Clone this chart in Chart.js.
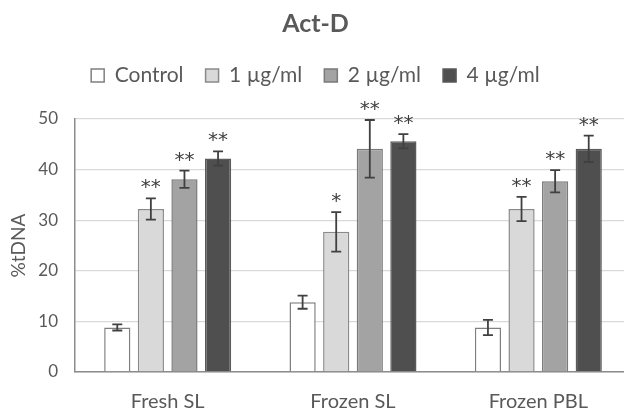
<!DOCTYPE html>
<html>
<head>
<meta charset="utf-8">
<script src="https://cdn.jsdelivr.net/npm/chart.js@4"></script>
<style>
  html, body { margin: 0; padding: 0; background: #fff; }
  #wrap { width: 624px; height: 413px; overflow: hidden; }
  #box { width: 632px; height: 413px; }
</style>
</head>
<body>
<div id="wrap"><div id="box"><canvas id="chart"></canvas></div></div>
<script>
// groups on the x axis
const groups = ['Fresh SL', 'Frozen SL', 'Frozen PBL'];
const doses = ['Control', '1 µg/ml', '2 µg/ml', '4 µg/ml'];

// %tDNA means
const controlVals = [8.8, 13.8, 8.8];
const dose1Vals = [32.2, 27.7, 32.2];
const dose2Vals = [38.1, 44.1, 37.7];
const dose4Vals = [42.2, 45.6, 44.1];

// error bars (+/-)
const controlErr = [0.6, 1.3, 1.5];
const dose1Err = [2.1, 3.9, 2.4];
const dose2Err = [1.7, 5.7, 2.2];
const dose4Err = [1.4, 1.4, 2.6];

// significance marks
const controlSig = ['', '', ''];
const dose1Sig = ['**', '*', '**'];
const dose2Sig = ['**', '**', '**'];
const dose4Sig = ['**', '**', '**'];

const yTicks = [0, 10, 20, 30, 40, 50];

const fills = ['#ffffff', '#d9d9d9', '#a3a3a3', '#4f4f4f'];
const borders = ['#7f7f7f', '#8a8a8a', '#7a7a7a', '#5a5a5a'];
const textGray = '#595959';
const font = 'Lato, "Open Sans", sans-serif';

const allVals = [controlVals, dose1Vals, dose2Vals, dose4Vals];
const allErr = [controlErr, dose1Err, dose2Err, dose4Err];
const allSig = [controlSig, dose1Sig, dose2Sig, dose4Sig];

// error bars + stars drawn from the data through the scales
const errorBars = {
    id: 'errorBars',
    afterDatasetsDraw(chart) {
        const ctx = chart.ctx;
        const y = chart.scales.y;
        chart.data.datasets.forEach((ds, di) => {
            const meta = chart.getDatasetMeta(di);
            meta.data.forEach((bar, i) => {
                const v = ds.data[i];
                const e = allErr[di][i];
                const top = y.getPixelForValue(v + e);
                const bot = y.getPixelForValue(v - e);
                ctx.save();
                ctx.strokeStyle = '#404040';
                ctx.lineWidth = 1.8;
                ctx.beginPath();
                ctx.moveTo(bar.x, top); ctx.lineTo(bar.x, bot);
                ctx.moveTo(bar.x - 5, top); ctx.lineTo(bar.x + 5, top);
                ctx.moveTo(bar.x - 5, bot); ctx.lineTo(bar.x + 5, bot);
                ctx.stroke();
                const s = allSig[di][i];
                if (s) {
                    ctx.fillStyle = '#404040';
                    ctx.font = '20px "DejaVu Sans", sans-serif';
                    ctx.textAlign = 'center';
                    ctx.textBaseline = 'alphabetic';
                    ctx.fillText(s, bar.x, top - 5);
                }
                ctx.restore();
            });
        });
    }
};

// fixed legend block height so the plot starts where the reference does
const legendHeight = {
    id: 'legendHeight',
    beforeInit(chart) {
        const fit = chart.legend.fit;
        chart.legend.fit = function () {
            fit.bind(chart.legend)();
            this.height = 76;
        };
    }
};

new Chart(document.getElementById('chart'), {
    type: 'bar',
    data: {
        labels: groups,
        datasets: doses.map((d, i) => ({
            label: d,
            data: allVals[i],
            backgroundColor: fills[i],
            borderColor: borders[i],
            borderWidth: 1.5,
            categoryPercentage: 0.725,
            barPercentage: 0.78
        }))
    },
    options: {
        responsive: true,
        maintainAspectRatio: false,
        animation: false,
        layout: { padding: { left: 0, right: 1, bottom: 0 } },
        scales: {
            x: {
                grid: { display: false, drawTicks: false },
                border: { color: '#8c8c8c', width: 1.5 },
                ticks: { color: textGray, font: { family: font, size: 20 }, padding: 18 },
                afterFit(axis) { axis.height = 41; }
            },
            y: {
                min: 0,
                max: 50,
                afterBuildTicks(axis) { axis.ticks = yTicks.map(v => ({ value: v })); },
                grid: { color: '#d9d9d9', lineWidth: 1.3, drawTicks: false },
                border: { color: '#8c8c8c', width: 1.5 },
                ticks: { color: textGray, font: { family: font, size: 17 }, padding: 17 },
                title: { display: true, text: '%tDNA', color: textGray, font: { family: font, size: 19 }, padding: { top: 7, bottom: 0 } },
                afterFit(axis) { axis.width = 75; }
            }
        },
        plugins: {
            title: {
                display: true,
                text: 'Act-D',
                color: textGray,
                font: { family: font, size: 25, weight: 'bold' },
                padding: { top: 9, bottom: 4 }
            },
            legend: {
                labels: {
                    color: textGray,
                    font: { family: font, size: 21 },
                    boxWidth: 13,
                    boxHeight: 13,
                    padding: 22
                }
            },
            tooltip: { enabled: false }
        }
    },
    plugins: [errorBars, legendHeight]
});
</script>
</body>
</html>
